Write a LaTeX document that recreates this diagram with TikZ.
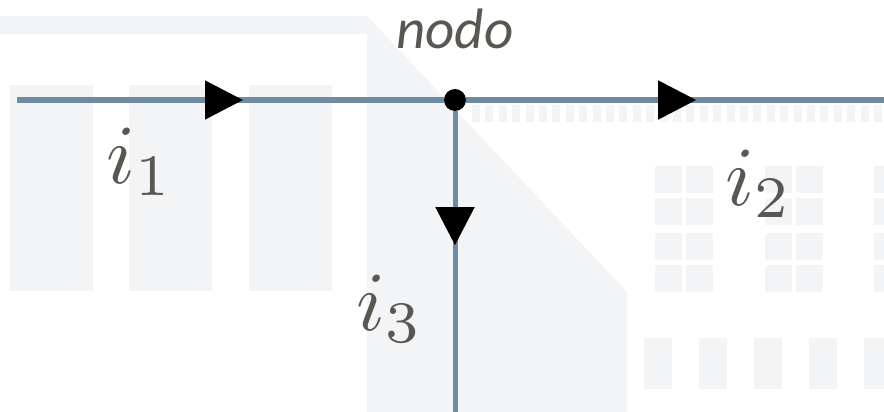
\documentclass[tikz,border=0pt]{standalone}
\usepackage{graphicx}
\usepackage{fontspec}
\newfontfamily\nodofont{Carlito}
\usetikzlibrary{arrows.meta,decorations.markings}
\definecolor{wmgray}{HTML}{F3F4F6}
\definecolor{wireblue}{HTML}{6F8BA4}
\definecolor{labelgray}{HTML}{5A5651}
\newcommand{\curlabel}[1]{\scalebox{8.4}{$i_{#1}$}}
\begin{document}
\begin{tikzpicture}[x=1pt,y=1pt,
  wm/.style={fill=wmgray,draw=none},
  wire/.style={line width=5pt,draw=wireblue},
  flow/.style={postaction={decorate},decoration={markings,
    mark=at position #1 with {\arrow[black]{Triangle[length=38pt,width=38pt]}}}},
  curlbl/.style={text=labelgray,inner sep=0pt,anchor=base west}]
  \useasboundingbox (0,0) rectangle (884,-412);
  % watermark
  \fill[wm] (0,-16) rectangle (367,-34);
  \fill[wm] (367,-16) -- (627,-292) -- (627,-412) -- (367,-412) -- cycle;
  \foreach \x in {10,129,249} \fill[wm] (\x,-85) rectangle ++(83,-206);
  \foreach \k in {0,...,30} \fill[wm] ({472+13.4*\k},-105) rectangle ++(8,-17);
  \foreach \x in {655,686,765,796,874}
    \foreach \y in {166,198,233,265} \fill[wm] (\x,-\y) rectangle ++(27,-27);
  \foreach \x in {644,699,754,809,864} \fill[wm] (\x,-338) rectangle ++(28,-51);
  % circuit
  \coordinate (in) at (17,-100);
  \coordinate (out) at (884,-100);
  \coordinate (down) at (455,-412);
  \node[circle,fill=black,inner sep=0pt,minimum size=22pt] (nodo) at (455,-100) {};
  \draw[wire,flow=226pt] (in) -- (nodo);
  \draw[wire,flow=230pt] (nodo) -- (out);
  \draw[wire,flow=134pt] (nodo) -- (down);
  \node[text=labelgray,inner sep=0pt,anchor=base,font=\nodofont\itshape\fontsize{57}{57}\selectfont] (nodolbl) at (455,-49) {nodo};
  \node[curlbl] (i1) at (106,-183) {\curlabel{1}};
  \node[curlbl] (i2) at (725,-205) {\curlabel{2}};
  \node[curlbl] (i3) at (356,-330) {\curlabel{3}};
\end{tikzpicture}
\end{document}
